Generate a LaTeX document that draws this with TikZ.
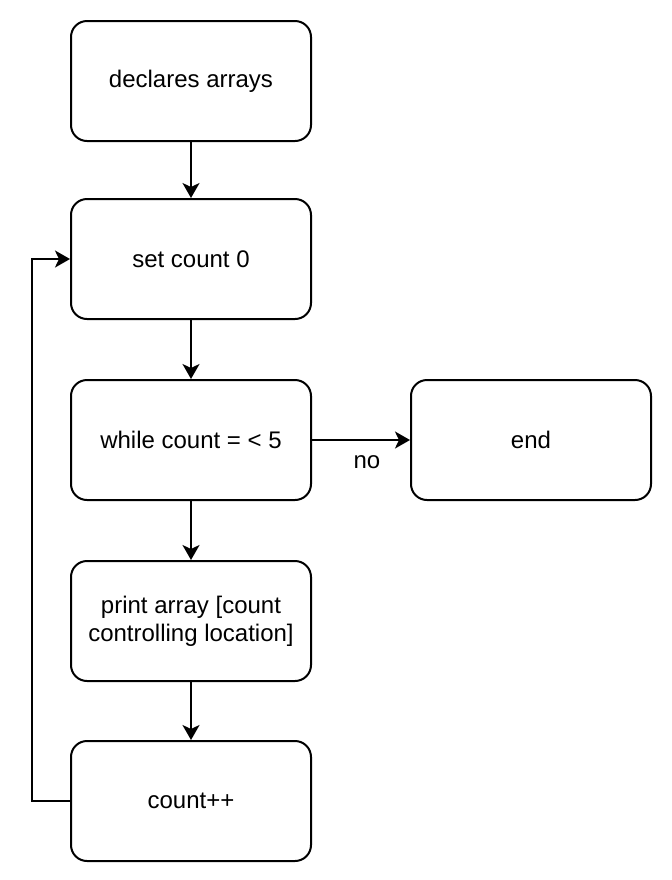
\documentclass[tikz,border=0pt]{standalone}
\usepackage{fontspec}
\setmainfont{Liberation Sans}
\usetikzlibrary{arrows.meta}
\tikzset{
  stepbox/.style={draw, line width=1pt, rounded corners=8pt, minimum width=120pt,
    minimum height=60pt, align=center, font=\fontsize{12}{14}\selectfont},
  flow/.style={-{Stealth[length=7.5pt,width=8.5pt,inset=2pt]}, line width=1pt}
}
\begin{document}
\begin{tikzpicture}[x=0.5pt,y=-0.5pt]
  \useasboundingbox (0,0) rectangle (672,880);
  \draw
    (191,81) node[stepbox] (decl){declares arrays}
    (191,259) node[stepbox] (set){set count 0}
    (191,440) node[stepbox] (while){while count = < 5}
    (191,621) node[stepbox] (print){print array [count\\controlling location]}
    (191,801) node[stepbox] (inc){count++}
    (531,440) node[stepbox] (end){end};
  \coordinate (loop) at (32,801);
  \begin{scope}[flow]
    \draw (decl) to (set);
    \draw (set) to (while);
    \draw (while) to (print);
    \draw (print) to (inc);
    \draw (while) to node[below=4pt, pos=0.56, font=\fontsize{12}{14}\selectfont]{no} (end);
    \draw (inc.west) -- (loop) |- (set.west);
  \end{scope}
\end{tikzpicture}
\end{document}
